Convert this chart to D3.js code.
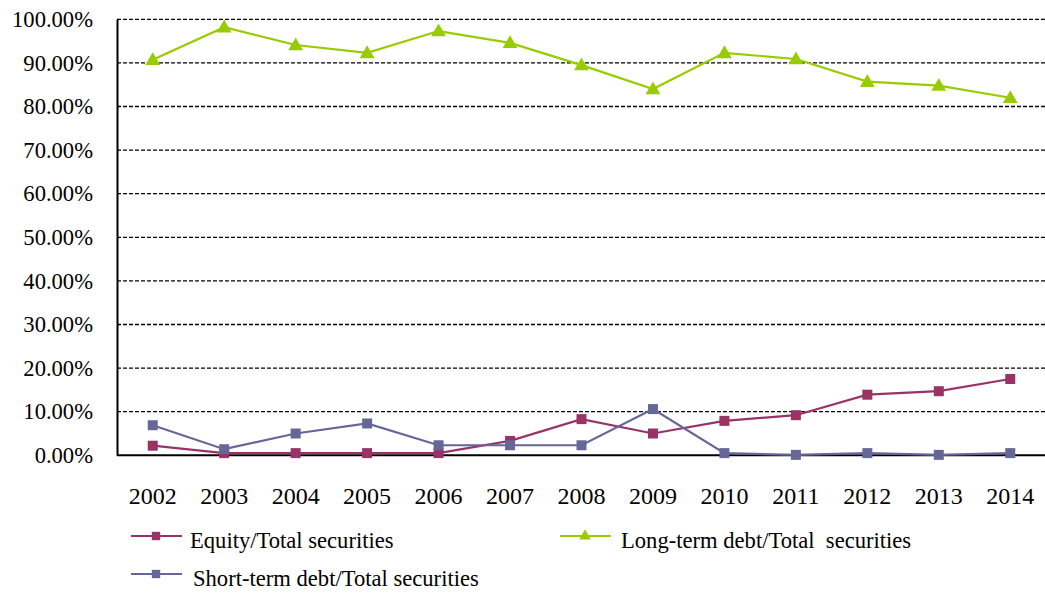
<!DOCTYPE html>
<html><head><meta charset="utf-8">
<script src="https://cdn.jsdelivr.net/npm/d3@7"></script>
<style>body{margin:0;background:#fff}svg{display:block}</style>
</head><body>
<svg id="c" width="1045" height="595"></svg>
<script>
const years = ["2002","2003","2004","2005","2006","2007","2008","2009","2010","2011","2012","2013","2014"];
const equity = [2.2,0.5,0.5,0.5,0.5,3.3,8.3,5.0,7.9,9.2,13.9,14.7,17.5];
const longTerm = [90.7,98.2,94.1,92.3,97.3,94.6,89.5,84.0,92.3,90.9,85.7,84.8,82.0];
const shortTerm = [6.9,1.4,5.0,7.3,2.3,2.3,2.3,10.6,0.5,0.1,0.5,0.1,0.5];
const yTicks = [0,10,20,30,40,50,60,70,80,90,100];
const seriesNames = ["Equity/Total securities","Long-term debt/Total  securities","Short-term debt/Total securities"];

const svg = d3.select("#c");
const L=117, R=1046, T=19.3, B=455.3;
const x = d3.scaleBand().domain(years).range([L,R]);
const y = d3.scaleLinear().domain([0,100]).range([B,T]);
const font = "'Times New Roman', 'Liberation Serif', Tinos, Times, 'Noto Serif', 'DejaVu Serif', FreeSerif, serif";

// gridlines
svg.append("g").selectAll("line").data(yTicks.filter(d=>d>0)).join("line")
  .attr("x1",L).attr("x2",R).attr("y1",d=>y(d)).attr("y2",d=>y(d))
  .attr("stroke","#000").attr("stroke-width",1.3).attr("stroke-dasharray","4,2");

// y axis labels
const yAxis = d3.axisLeft(y).tickValues(yTicks).tickSize(0).tickPadding(24).tickFormat(d=>d.toFixed(2)+"%");
const gy = svg.append("g").attr("transform",`translate(${L},0)`).call(yAxis);
gy.attr("font-family",font);
gy.select(".domain").attr("stroke","#000").attr("stroke-width",2);
gy.selectAll("text").attr("font-family",font).attr("font-size",22.6).attr("fill","#000");

// x axis
const xAxis = d3.axisBottom(x).tickSize(0).tickPadding(32);
const gx = svg.append("g").attr("transform",`translate(0,${B})`).call(xAxis);
gx.attr("font-family",font);
gx.select(".domain").attr("stroke","#000").attr("stroke-width",2).attr("d",`M${L},0H${R}`);
gx.selectAll("text").attr("font-family",font).attr("font-size",24).attr("fill","#000");

const series = [
  {name:seriesNames[0], vals:equity, color:"#993366", sym:"square"},
  {name:seriesNames[1], vals:longTerm, color:"#99CC00", sym:"triangle"},
  {name:seriesNames[2], vals:shortTerm, color:"#666699", sym:"square"}
];
const cx = d => x(d)+x.bandwidth()/2;
const symGen = s => d3.symbol().type(s==="square"?d3.symbolSquare:d3.symbolTriangle).size(s==="square"?100:95)();

const drawOrder = [1,0,2];
drawOrder.forEach(i=>{
  const s = series[i];
  const line = d3.line().x((d,j)=>cx(years[j])).y(d=>y(d));
  svg.append("path").attr("d",line(s.vals)).attr("fill","none").attr("stroke",s.color).attr("stroke-width",2.2);
  svg.append("g").selectAll("path").data(s.vals).join("path")
    .attr("d",symGen(s.sym))
    .attr("transform",(d,j)=>`translate(${cx(years[j])},${y(d)+(s.sym==="triangle"?1:0)})`)
    .attr("fill",s.color);
});

// legend
const legendPos = [{x:131,y:536,tx:190},{x:560,y:536,tx:621},{x:131,y:574,tx:193}];
series.forEach((s,i)=>{
  const p = legendPos[i];
  const g = svg.append("g");
  g.append("line").attr("x1",p.x).attr("x2",p.x+51).attr("y1",p.y).attr("y2",p.y).attr("stroke",s.color).attr("stroke-width",2);
  g.append("path").attr("d",d3.symbol().type(s.sym==="square"?d3.symbolSquare:d3.symbolTriangle).size(s.sym==="square"?70:60)())
    .attr("transform",`translate(${p.x+25},${p.y})`).attr("fill",s.color);
  g.append("text").attr("x",p.tx).attr("y",p.y+12).text(s.name)
    .attr("font-family",font).attr("font-size",22.6).attr("fill","#000").style("white-space","pre");
});
</script>
</body></html>
